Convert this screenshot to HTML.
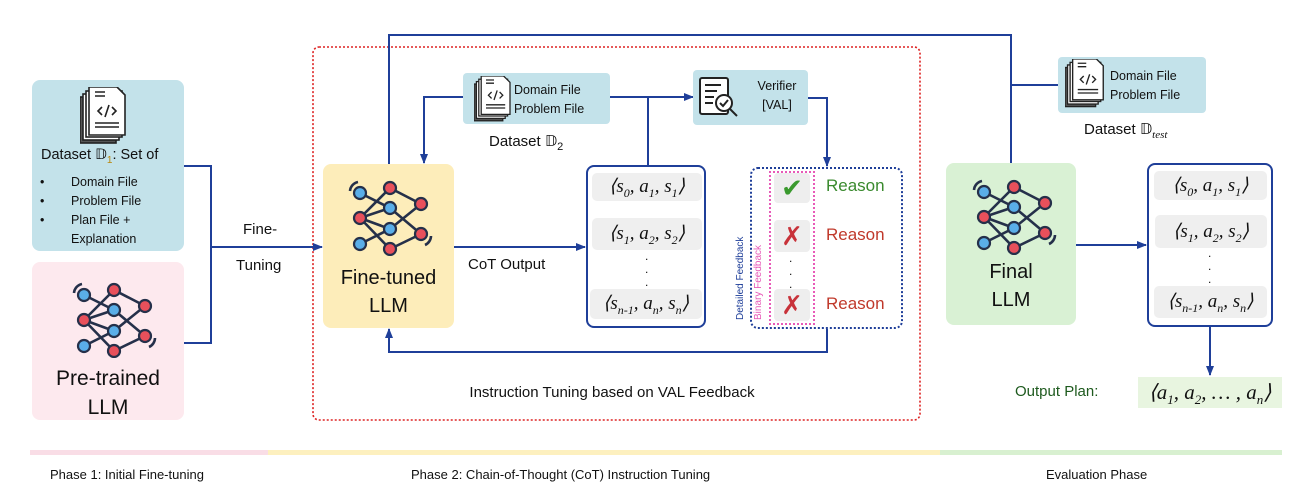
<!DOCTYPE html>
<html><head><meta charset="utf-8"><style>
body{margin:0;width:1312px;height:502px;background:#fff;position:relative;overflow:hidden;font-family:"Liberation Sans","DejaVu Sans",sans-serif;color:#111}
.a{position:absolute}
.m{font-family:"Liberation Serif",serif;font-style:italic}
.row{position:absolute;background:#efefef;border-radius:5px;text-align:center;font-family:"Liberation Serif",serif;font-size:19px}
.row i sub{font-size:12px}
</style></head><body>
<svg class="a" style="left:0;top:0" width="1312" height="502">
<defs>
<marker id="ar" markerWidth="10" markerHeight="10" refX="9" refY="5" orient="auto" markerUnits="userSpaceOnUse"><path d="M0,1 L10,5 L0,9 z" fill="#1f3f99"/></marker>
<g id="nn" stroke="#25304a" stroke-width="2.6" fill="none">
<path d="M8,12L38,27M38,27L69,53M38,7L8,37M38,7L69,23M8,37L38,27M8,37L38,48M8,37L38,68M38,48L69,23M8,63L38,48M38,68L69,53"/>
<g stroke-width="2.2"><circle cx="8" cy="12" r="6" fill="#5aaee8"/><circle cx="38" cy="27" r="6" fill="#5aaee8"/><circle cx="38" cy="48" r="6" fill="#5aaee8"/><circle cx="8" cy="63" r="6" fill="#5aaee8"/>
<circle cx="38" cy="7" r="6" fill="#e8505b"/><circle cx="69" cy="23" r="6" fill="#e8505b"/><circle cx="8" cy="37" r="6" fill="#e8505b"/><circle cx="69" cy="53" r="6" fill="#e8505b"/><circle cx="38" cy="68" r="6" fill="#e8505b"/></g>
<path d="M-2,10 A10,10 0 0 1 6,1" /><path d="M79,55 A10,10 0 0 1 73,64"/>
</g>
<g id="doc" stroke="#222" stroke-width="1.6" fill="#fff">
<rect x="0" y="10" width="36" height="46" fill="#555"/><rect x="3" y="7" width="36" height="46"/><rect x="6" y="4" width="36" height="46"/><path d="M9,0 H37 L45,8 V48 H9 Z"/>
<path d="M15,5h10M15,9h10M22,20l-4,4 4,4M32,20l4,4-4,4M29,18l-4,12M15,36h24M15,40h24" fill="none"/>
</g>
</defs>
<!-- phase bars -->
<rect x="30" y="450" width="238" height="5" fill="#f9dde6"/>
<rect x="268" y="450" width="672" height="5" fill="#fdf0bf"/>
<rect x="940" y="450" width="342" height="5" fill="#d8f0d0"/>
<!-- red dotted -->
<rect x="313" y="47" width="607" height="373" rx="6" fill="none" stroke="#d22" stroke-width="1.6" stroke-dasharray="2,2"/>
<g stroke="#1f3f99" stroke-width="2" fill="none">
<path d="M184,166H211V343H184"/>
<path d="M211,247H322" marker-end="url(#ar)"/>
<path d="M389,164V35H1011V192" marker-end="url(#ar)"/>
<path d="M1058,85H1011"/>
<path d="M463,97H424V163" marker-end="url(#ar)"/>
<path d="M610,97H693" marker-end="url(#ar)"/>
<path d="M648,97V165"/>
<path d="M808,98H827V166" marker-end="url(#ar)"/>
<path d="M454,247H585" marker-end="url(#ar)"/>
<path d="M827,329V352H389V329" marker-end="url(#ar)"/>
<path d="M1076,245H1146" marker-end="url(#ar)"/>
<path d="M1210,327V375" marker-end="url(#ar)"/>
</g>
</svg>
<!-- D1 -->
<div class="a" style="left:32px;top:80px;width:152px;height:171px;background:#c3e2ea;border-radius:8px"></div>
<svg class="a" style="left:80px;top:87px" width="50" height="60"><use href="#doc"/></svg>
<div class="a" style="left:41px;top:147px;font-size:14.5px">Dataset <span style="font-family:'DejaVu Sans'">𝔻</span><sub style="font-size:10px;color:#b8860b">1</sub>: Set of</div>
<div class="a" style="left:40px;top:173px;font-size:12.5px;line-height:19px">•<br>•<br>•</div>
<div class="a" style="left:71px;top:173px;font-size:12.5px;line-height:19px">Domain File<br>Problem File<br>Plan File +<br>Explanation</div>
<!-- pretrained -->
<div class="a" style="left:32px;top:262px;width:152px;height:158px;background:#fde9ee;border-radius:8px"></div>
<svg class="a" style="left:70px;top:278px" width="90" height="80"><use href="#nn" x="6" y="5"/></svg>
<div class="a" style="left:32px;top:364px;width:152px;text-align:center;font-size:21px;line-height:29px">Pre-trained<br>LLM</div>
<div class="a" style="left:243px;top:221px;font-size:15px">Fine-</div>
<div class="a" style="left:236px;top:257px;font-size:15px">Tuning</div>
<!-- fine-tuned -->
<div class="a" style="left:323px;top:164px;width:131px;height:164px;background:#fdedba;border-radius:8px"></div>
<svg class="a" style="left:346px;top:176px" width="90" height="80"><use href="#nn" x="6" y="5"/></svg>
<div class="a" style="left:323px;top:264px;width:131px;text-align:center;font-size:20px;line-height:28px">Fine-tuned<br>LLM</div>
<!-- D2 -->
<div class="a" style="left:463px;top:73px;width:147px;height:51px;background:#c3e2ea;border-radius:4px"></div>
<svg class="a" style="left:474px;top:76px" width="50" height="60" viewBox="0 0 50 60"><g transform="scale(0.8)"><use href="#doc"/></g></svg>
<div class="a" style="left:514px;top:81px;font-size:12.5px;line-height:19px">Domain File<br>Problem File</div>
<div class="a" style="left:489px;top:132px;font-size:15px">Dataset <span style="font-family:'DejaVu Sans'">𝔻</span><sub style="font-size:11px">2</sub></div>
<!-- verifier -->
<div class="a" style="left:693px;top:70px;width:115px;height:55px;background:#c3e2ea;border-radius:4px"></div>
<svg class="a" style="left:698px;top:76px" width="50" height="48"><g stroke="#222" stroke-width="2" fill="none"><rect x="2" y="2" width="28" height="36" rx="2" fill="#fff"/><path d="M7,9h16M7,15h12M7,21h9M7,27h8"/><circle cx="26" cy="27" r="8" fill="#fff"/><path d="M22,27l3,3 5,-6M32,33l7,7"/></g></svg>
<div class="a" style="left:747px;top:77px;width:60px;text-align:center;font-size:12.5px;line-height:19px">Verifier<br>[VAL]</div>
<!-- CoT box -->
<div class="a" style="left:586px;top:165px;width:120px;height:163px;border:2px solid #1f3f99;border-radius:8px;box-sizing:border-box"></div>
<div class="row" style="left:592px;top:173px;width:110px;height:28px;line-height:28px"><i>⟨s<sub>0</sub>, a<sub>1</sub>, s<sub>1</sub>⟩</i></div>
<div class="row" style="left:592px;top:218px;width:110px;height:32px;line-height:32px"><i>⟨s<sub>1</sub>, a<sub>2</sub>, s<sub>2</sub>⟩</i></div>
<div class="a" style="left:645px;top:250px;font-size:12px;line-height:13px">.<br>.<br>.</div>
<div class="row" style="left:590px;top:289px;width:112px;height:30px;line-height:30px"><i>⟨s<sub>n-1</sub>, a<sub>n</sub>, s<sub>n</sub>⟩</i></div>
<div class="a" style="left:468px;top:256px;font-size:15px">CoT Output</div>
<!-- feedback -->
<div class="a" style="left:750px;top:167px;width:153px;height:162px;border:2px dotted #1f3f99;border-radius:8px;box-sizing:border-box"></div>
<div class="a" style="left:769px;top:171px;width:46px;height:154px;border:2px dotted #e85ab8;box-sizing:border-box"></div>
<div class="a" style="left:735px;top:320px;transform:rotate(-90deg);transform-origin:0 0;font-size:10px;color:#1f3f99;white-space:nowrap">Detailed Feedback</div>
<div class="a" style="left:753px;top:320px;transform:rotate(-90deg);transform-origin:0 0;font-size:10px;color:#e85ab8;white-space:nowrap">Binary Feedback</div>
<div class="a" style="left:774px;top:173px;width:36px;height:30px;background:#eee;border-radius:4px;text-align:center;font-size:26px;line-height:30px;color:#3a9a2e">✔</div>
<div class="a" style="left:774px;top:220px;width:36px;height:32px;background:#eee;border-radius:4px;text-align:center;font-size:26px;line-height:32px;color:#c8323a">✗</div>
<div class="a" style="left:789px;top:252px;font-size:12px;line-height:13px">.<br>.<br>.</div>
<div class="a" style="left:774px;top:289px;width:36px;height:32px;background:#eee;border-radius:4px;text-align:center;font-size:26px;line-height:32px;color:#c8323a">✗</div>
<div class="a" style="left:826px;top:176px;font-size:17px;color:#3a8a2e">Reason</div>
<div class="a" style="left:826px;top:225px;font-size:17px;color:#c0392b">Reason</div>
<div class="a" style="left:826px;top:294px;font-size:17px;color:#c0392b">Reason</div>
<div class="a" style="left:313px;top:384px;width:598px;text-align:center;font-size:15px">Instruction Tuning based on VAL Feedback</div>
<!-- D test -->
<div class="a" style="left:1058px;top:57px;width:148px;height:56px;background:#c3e2ea;border-radius:4px"></div>
<svg class="a" style="left:1065px;top:59px" width="50" height="60"><g transform="scale(0.85)"><use href="#doc"/></g></svg>
<div class="a" style="left:1110px;top:67px;font-size:12.5px;line-height:19px">Domain File<br>Problem File</div>
<div class="a" style="left:1084px;top:120px;font-size:15px">Dataset <span style="font-family:'DejaVu Sans'">𝔻</span><sub class="m" style="font-size:11px">test</sub></div>
<!-- final -->
<div class="a" style="left:946px;top:163px;width:130px;height:162px;background:#d9f1d4;border-radius:8px"></div>
<svg class="a" style="left:970px;top:175px" width="90" height="80"><use href="#nn" x="6" y="5"/></svg>
<div class="a" style="left:946px;top:258px;width:130px;text-align:center;font-size:20px;line-height:28px">Final<br>LLM</div>
<div class="a" style="left:1147px;top:163px;width:126px;height:164px;border:2px solid #1f3f99;border-radius:8px;box-sizing:border-box"></div>
<div class="row" style="left:1154px;top:171px;width:113px;height:29px;line-height:29px"><i>⟨s<sub>0</sub>, a<sub>1</sub>, s<sub>1</sub>⟩</i></div>
<div class="row" style="left:1155px;top:215px;width:112px;height:33px;line-height:33px"><i>⟨s<sub>1</sub>, a<sub>2</sub>, s<sub>2</sub>⟩</i></div>
<div class="a" style="left:1208px;top:247px;font-size:12px;line-height:13px">.<br>.<br>.</div>
<div class="row" style="left:1154px;top:286px;width:113px;height:32px;line-height:32px"><i>⟨s<sub>n-1</sub>, a<sub>n</sub>, s<sub>n</sub>⟩</i></div>
<div class="a" style="left:1015px;top:383px;font-size:15px;color:#1e5a1e">Output Plan:</div>
<div class="a" style="left:1138px;top:377px;width:144px;height:31px;background:#e8f5e0;text-align:center;line-height:31px;font-family:'Liberation Serif',serif;font-size:21px"><i>⟨a<sub style="font-size:13px">1</sub>, a<sub style="font-size:13px">2</sub>, … , a<sub style="font-size:13px">n</sub>⟩</i></div>
<!-- phase labels -->
<div class="a" style="left:50px;top:467px;font-size:13px">Phase 1: Initial Fine-tuning</div>
<div class="a" style="left:411px;top:467px;font-size:13px">Phase 2: Chain-of-Thought (CoT) Instruction Tuning</div>
<div class="a" style="left:1046px;top:467px;font-size:13px">Evaluation Phase</div>
</body></html>
